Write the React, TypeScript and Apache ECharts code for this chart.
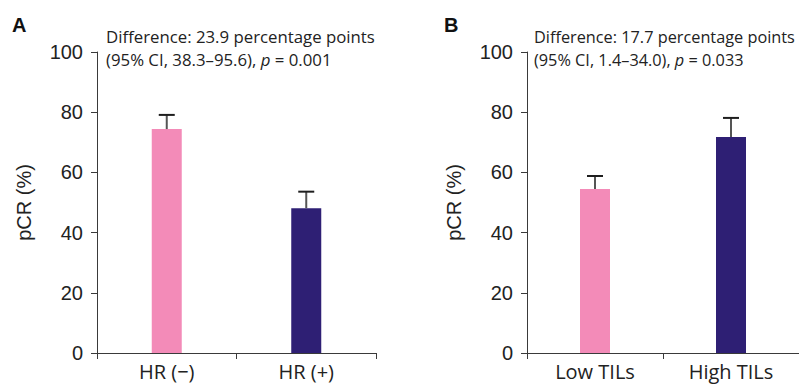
import React, { useEffect, useRef } from "react";
import * as echarts from "echarts";

const categoriesA = ["HR (\u2212)", "HR (+)"];
const pcrA = [74.4, 48.1];
const upperA = [79.1, 53.6];
const categoriesB = ["Low TILs", "High TILs"];
const pcrB = [54.5, 71.8];
const upperB = [58.8, 78.1];
const colors = ["#F38BB8", "#2E1F74"];
const yTicks = { min: 0, max: 100, interval: 20 };
const yName = "pCR (%)";
const noteA = ["Difference: 23.9 percentage points", "(95% CI, 38.3\u201395.6), ", " = 0.001"];
const noteB = ["Difference: 17.7 percentage points", "(95% CI, 1.4\u201334.0), ", " = 0.033"];

const TICK_FONT = "'Liberation Sans', Arial, sans-serif";
const TEXT_FONT = "'Open Sans', sans-serif";

function makeX(idx: number, cats: string[]) {
  return {
    type: "category",
    gridIndex: idx,
    data: cats,
    axisLine: { lineStyle: { color: "#3a3a3a", width: 1 } },
    axisTick: { show: true, alignWithLabel: false, length: 6, lineStyle: { color: "#3a3a3a" } },
    axisLabel: { color: "#222", fontFamily: TEXT_FONT, fontSize: 20, margin: 8 },
    splitLine: { show: false },
  };
}

function makeY(idx: number) {
  return {
    type: "value",
    gridIndex: idx,
    min: yTicks.min,
    max: yTicks.max,
    interval: yTicks.interval,
    name: yName,
    nameLocation: "middle",
    nameGap: 63,
    nameTextStyle: { color: "#222", fontFamily: TICK_FONT, fontSize: 20 },
    axisLine: { show: true, lineStyle: { color: "#3a3a3a", width: 1 } },
    axisTick: { show: true, length: 6, lineStyle: { color: "#3a3a3a" } },
    axisLabel: { color: "#222", fontFamily: TICK_FONT, fontSize: 20, margin: 14 },
    splitLine: { show: false },
  };
}

function barSeries(idx: number, vals: number[]) {
  return {
    type: "bar",
    xAxisIndex: idx,
    yAxisIndex: idx,
    barWidth: 30,
    data: vals.map((v, i) => ({ value: v, itemStyle: { color: colors[i] } })),
    z: 2,
  };
}

function errSeries(idx: number, vals: number[], ups: number[]) {
  return {
    type: "custom",
    xAxisIndex: idx,
    yAxisIndex: idx,
    z: 3,
    data: vals.map((v, i) => [i, v, ups[i]]),
    encode: { x: 0, y: [1, 2] },
    renderItem: (params: any, api: any) => {
      const c = api.value(0);
      const p0 = api.coord([c, api.value(1)]);
      const p1 = api.coord([c, api.value(2)]);
      return {
        type: "group",
        children: [
          { type: "line", shape: { x1: p0[0], y1: p0[1], x2: p1[0], y2: p1[1] }, style: { stroke: "#555", lineWidth: 2 } },
          { type: "line", shape: { x1: p1[0] - 8, y1: p1[1], x2: p1[0] + 8, y2: p1[1] }, style: { stroke: "#1e1e1e", lineWidth: 2 } },
        ],
      };
    },
  };
}

function note(x: number, lines: string[], size: number) {
  return {
    type: "text",
    x,
    y: 25,
    style: {
      text: `{n|${lines[0]}}\n{n|${lines[1]}}{i|p}{n|${lines[2]}}`,
      rich: {
        n: { fontFamily: TEXT_FONT, fontSize: size, lineHeight: 23, fill: "#222" },
        i: { fontFamily: TEXT_FONT, fontSize: size, lineHeight: 23, fill: "#222", fontStyle: "italic" },
      },
    },
  };
}

export default function App() {
  const ref = useRef<HTMLDivElement>(null);
  useEffect(() => {
    if (!ref.current) return;
    const chart = echarts.init(ref.current, null, { renderer: "svg" });
    chart.setOption({
      animation: false,
      backgroundColor: "#fff",
      grid: [
        { left: 97, top: 52, width: 279, height: 301 },
        { left: 527, top: 52, width: 280, height: 301 },
      ],
      xAxis: [makeX(0, categoriesA), makeX(1, categoriesB)],
      yAxis: [makeY(0), makeY(1)],
      series: [barSeries(0, pcrA), errSeries(0, pcrA, upperA), barSeries(1, pcrB), errSeries(1, pcrB, upperB)],
      graphic: [
        { type: "text", x: 12, y: 15, style: { text: "A", fontFamily: TICK_FONT, fontWeight: "bold", fontSize: 20, fill: "#111" } },
        { type: "text", x: 444, y: 15, style: { text: "B", fontFamily: TICK_FONT, fontWeight: "bold", fontSize: 20, fill: "#111" } },
        note(106, noteA, 16.8),
        note(534, noteB, 16.3),
      ],
    });
    return () => chart.dispose();
  }, []);
  return <div ref={ref} style={{ position: "fixed", left: 0, top: 0, width: 799, height: 384, background: "#fff" }} />;
}
